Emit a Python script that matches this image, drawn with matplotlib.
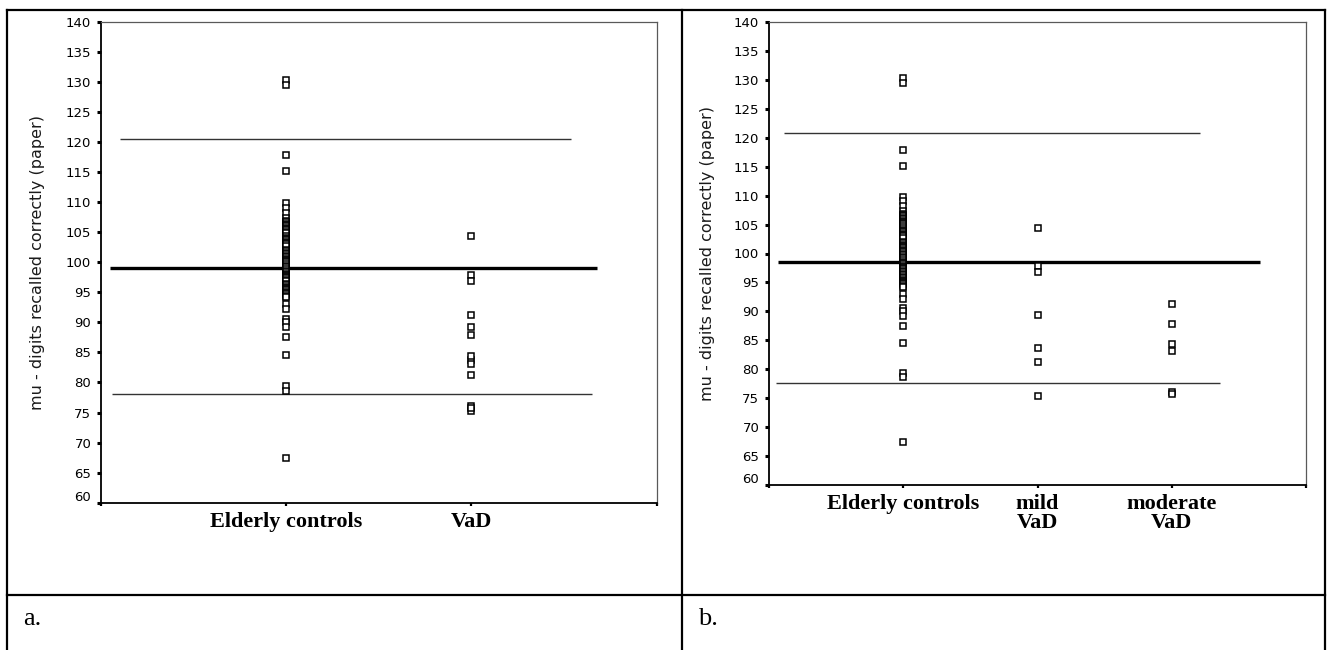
import matplotlib
matplotlib.use("Agg")
import matplotlib.pyplot as plt
import matplotlib.transforms as mtransforms
from matplotlib.lines import Line2D

W, H = 1328, 650

# scores
controls = [130.3, 129.5, 117.8, 115.1,
            109.8, 109.0, 108.2, 107.3, 106.9, 106.7, 106.4, 106.2, 106.0,
            105.7, 105.5, 105.3, 105.1, 104.8, 104.4, 104.1, 103.9, 103.7,
            103.4, 103.2, 103.0, 102.7, 102.0, 101.8, 101.5, 101.3, 101.1,
            100.9, 100.6, 100.4, 100.2, 100.0, 99.7, 99.4, 99.2, 98.8, 98.6,
            98.4, 98.1, 97.9, 97.7, 97.5, 97.3, 97.0, 96.8, 96.4, 96.2, 95.9,
            95.7, 95.5, 95.3, 95.1, 94.9, 94.7, 94.4, 94.2,
            93.0, 92.2, 90.6, 90.0, 89.2, 87.5, 84.5, 79.4, 78.6, 67.4]
mild_vad = [104.4, 97.9, 96.8, 89.3, 83.7, 81.2, 75.3]
moderate_vad = [91.2, 87.9, 84.4, 83.1, 76.0, 75.7]
vad = mild_vad + moderate_vad

labels_a = ["Elderly controls", "VaD"]
labels_b = ["Elderly controls", "mild\nVaD", "moderate\nVaD"]

# reference lines: upper, mean, lower
levels_a = [120.5, 99.0, 78.1]
levels_b = [120.9, 98.6, 77.6]
# x extent of each reference line (data units)
spans_a = [(0.10, 2.54), (0.05, 2.68), (0.06, 2.65)]
spans_b = [(0.11, 3.21), (0.07, 3.66), (0.05, 3.36)]

ylab = "mu - digits recalled correctly (paper)"


def px(x0, y0, x1, y1):
    # pixel box -> figure fraction [left, bottom, width, height]
    return [x0 / W, 1 - y1 / H, (x1 - x0) / W, (y1 - y0) / H]


def panel(ax, groups, labels, levels, spans):
    n = len(groups)
    for i, g in enumerate(groups):
        ax.plot([i + 1] * len(g), g, ls="none", marker="s", ms=4.8,
                mfc="white", mec="black", mew=1.1, zorder=3)
    for lv, (a, b), lw in zip(levels, spans, [1.0, 2.4, 1.0]):
        ax.hlines(lv, a, b, color="0.2" if lw < 2 else "black", lw=lw, zorder=2)
    ax.set_xlim(0, n + 1)
    ax.set_ylim(60, 140)
    ax.set_yticks(range(60, 141, 5))
    ax.set_xticks(range(0, n + 2))
    ax.set_xticklabels([""] + labels + [""], family="Liberation Serif",
                       fontsize=16, fontweight="bold", linespacing=0.95, va="top")
    ax.tick_params(axis="y", direction="out", length=3, width=2.2, pad=4,
                   labelsize=9.5)
    ax.tick_params(axis="x", direction="out", length=2.5, width=1.6, pad=4)
    # the bottom label (60) sits a little above its tick
    lab60 = ax.get_yticklabels()[0]
    lab60.set_transform(lab60.get_transform() +
                        mtransforms.ScaledTranslation(0, 7 / 100, ax.figure.dpi_scale_trans))
    for s in ["left", "bottom"]:
        ax.spines[s].set_linewidth(1.3)
        ax.spines[s].set_color("black")
    for s in ["top", "right"]:
        ax.spines[s].set_linewidth(0.9)
        ax.spines[s].set_color("0.35")
    ax.set_ylabel(ylab, fontsize=11.5, color="0.1")
    ax.yaxis.set_label_coords(-0.10, 0.5)


fig = plt.figure(figsize=(W / 100, H / 100), dpi=100)
fig.patch.set_facecolor("white")

ax1 = fig.add_axes(px(101, 21.7, 656.7, 502.7))
panel(ax1, [controls, vad], labels_a, levels_a, spans_a)

ax2 = fig.add_axes(px(769, 22, 1306, 485))
panel(ax2, [controls, mild_vad, moderate_vad], labels_b, levels_b, spans_b)

# table borders
tf = fig.transFigure
for (x0, y0, x1, y1) in [(7, 10, 1325, 10), (7, 595, 1325, 595),
                         (7, 10, 7, 650), (681.7, 10, 681.7, 650),
                         (1324.7, 10, 1324.7, 650)]:
    fig.add_artist(Line2D([x0 / W, x1 / W], [1 - y0 / H, 1 - y1 / H],
                          transform=tf, color="black", lw=1.6))

fig.text(23 / W, 1 - 619 / H, "a.", family="Liberation Serif", fontsize=19,
         va="center", ha="left")
fig.text(698 / W, 1 - 619 / H, "b.", family="Liberation Serif", fontsize=19,
         va="center", ha="left")

fig.savefig("out.png", dpi=100)
